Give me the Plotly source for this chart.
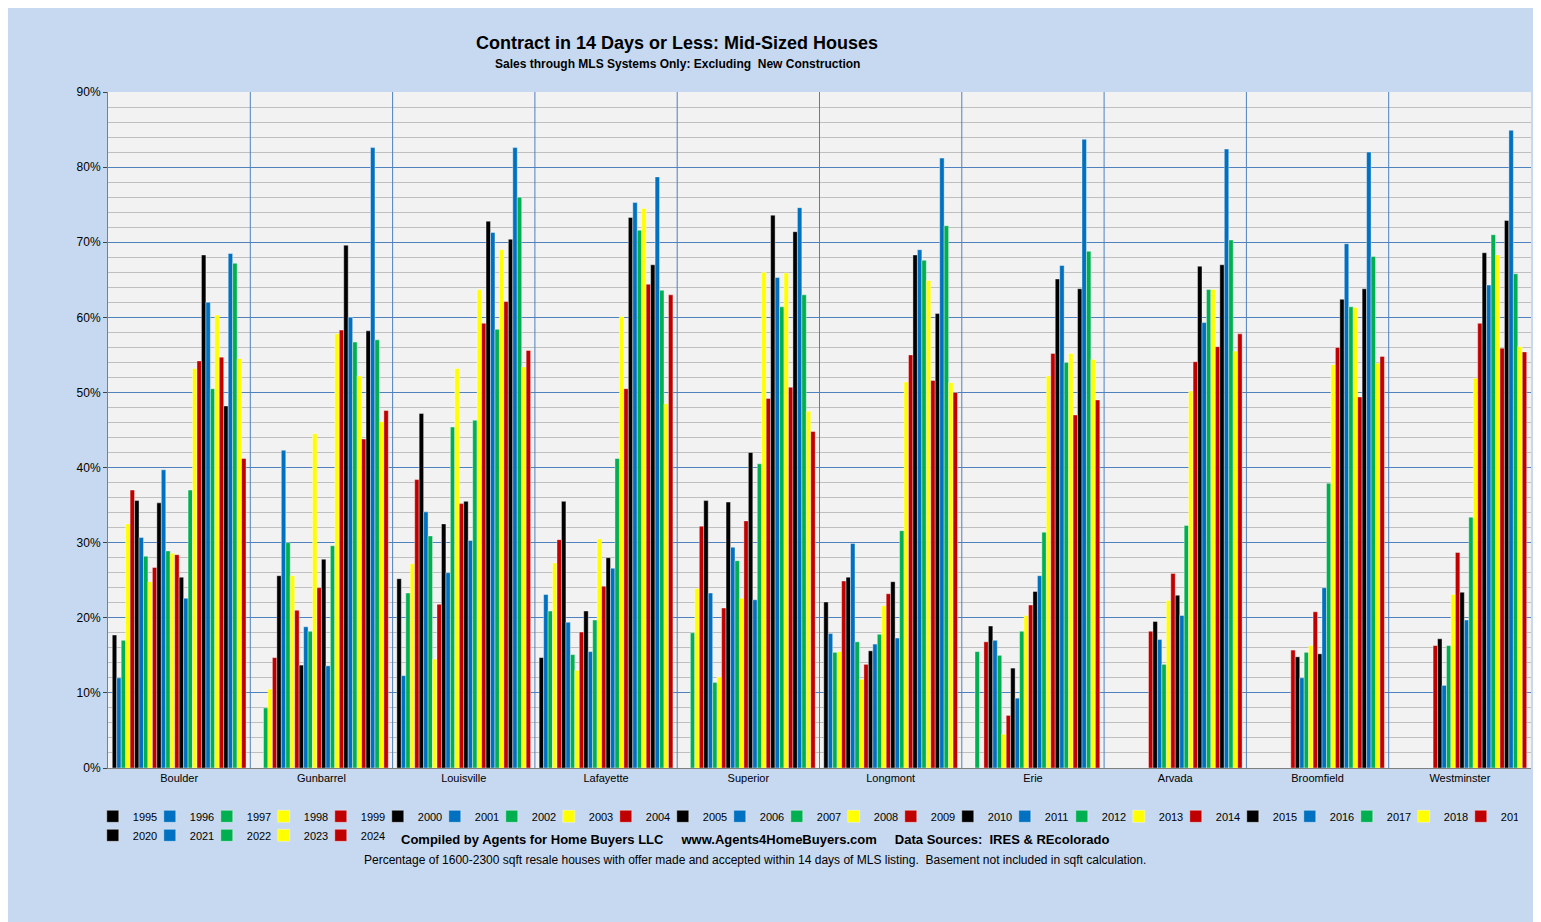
import plotly.graph_objects as go

# Contract in 14 days or less, mid-sized houses, % by city and year
cities = ['Boulder', 'Gunbarrel', 'Louisville', 'Lafayette', 'Superior',
          'Longmont', 'Erie', 'Arvada', 'Broomfield', 'Westminster']
years = list(range(1995, 2025))

N = None
boulder = [17.7, 12, 17, 32.5, 37, 35.6, 30.7, 28.2, 24.8, 26.7, 35.3, 39.7, 28.9, 28.6, 28.4,
           25.4, 22.6, 37, 53.2, 54.2, 68.3, 62, 50.5, 60.3, 54.7, 48.2, 68.5, 67.2, 54.5, 41.2]
gunbarrel = [N, N, 8, 10.5, 14.7, 25.6, 42.3, 30, 25.6, 21, 13.7, 18.8, 18.2, 44.5, 24,
             27.8, 13.6, 29.6, 57.8, 58.3, 69.6, 60, 56.7, 52.2, 43.8, 58.2, 82.6, 57, 46.1, 47.6]
louisville = [25.2, 12.3, 23.3, 27.2, 38.4, 47.2, 34.1, 30.9, 14.5, 21.8, 32.5, 26, 45.4, 53.2, 35.2,
              35.5, 30.3, 46.3, 63.7, 59.2, 72.8, 71.3, 58.4, 69, 62.1, 70.4, 82.6, 76, 53.4, 55.6]
lafayette = [14.7, 23.1, 20.9, 27.3, 30.4, 35.5, 19.4, 15.1, 13, 18.1, 20.9, 15.5, 19.7, 30.5, 24.2,
             28, 26.6, 41.2, 60.1, 50.5, 73.3, 75.3, 71.6, 74.5, 64.4, 67, 78.7, 63.6, 48.5, 63]
superior = [N, N, 18, 23.9, 32.2, 35.6, 23.3, 11.4, 12.1, 21.3, 35.4, 29.4, 27.6, 22.6, 32.9,
            42, 22.4, 40.5, 66, 49.2, 73.6, 65.3, 61.4, 65.9, 50.7, 71.4, 74.6, 63, 47.5, 44.8]
longmont = [22.1, 17.9, 15.4, 15.5, 24.9, 25.4, 29.9, 16.8, 11.8, 13.8, 15.6, 16.5, 17.8, 21.6, 23.2,
            24.8, 17.3, 31.6, 51.4, 55, 68.3, 69, 67.6, 64.9, 51.6, 60.5, 81.2, 72.2, 51.3, 50]
erie = [N, N, 15.5, N, 16.8, 18.9, 17, 15, 4.5, 7, 13.3, 9.3, 18.2, 20.3, 21.7,
        23.5, 25.6, 31.4, 52.2, 55.2, 65.1, 66.9, 54, 55.2, 47, 63.8, 83.7, 68.8, 54.4, 49]
arvada = [N] * 9 + [18.2, 19.5, 17.1, 13.8, 22.3, 25.9, 23, 20.3, 32.3, 50.2, 54.1,
                    66.8, 59.3, 63.7, 63.7, 56.1, 67, 82.4, 70.3, 55.5, 57.8]
broomfield = [N] * 9 + [15.7, 14.8, 12, 15.4, 16.3, 20.8, 15.2, 24, 37.9, 53.7, 56,
                        62.4, 69.8, 61.4, 61.3, 49.4, 63.8, 82, 68.1, 53.9, 54.8]
westminster = [N] * 9 + [16.3, 17.2, 11, 16.3, 23.1, 28.7, 23.4, 19.7, 33.4, 51.9, 59.2,
                         68.6, 64.3, 71, 68.3, 55.9, 72.9, 84.9, 65.8, 56.1, 55.4]

series = [boulder, gunbarrel, louisville, lafayette, superior,
          longmont, erie, arvada, broomfield, westminster]
palette = ['#000000', '#0070C0', '#00B050', '#FFFF00', '#C00000']

fig = go.Figure()
for i, yr in enumerate(years):
    vals = [s[i] / 100 if s[i] is not None else None for s in series]
    fig.add_trace(go.Bar(x=cities, y=vals, name=str(yr),
                         marker=dict(color=palette[i % 5], line=dict(color='white', width=0.4))))

# separators between city groups
shapes = [dict(type='line', xref='x', yref='paper', x0=i + 0.5, x1=i + 0.5, y0=0, y1=1,
               line=dict(color='#4F81BD', width=1)) for i in range(len(cities) - 1)]

fig.update_layout(
    width=1541, height=922,
    paper_bgcolor='#C6D9F1', plot_bgcolor='#F2F2F2',
    font=dict(family='Liberation Sans, Arial', color='black', size=11),
    margin=dict(l=100, r=18, t=84, b=162),
    barmode='group', bargap=0.06, bargroupgap=0,
    showlegend=True,
    legend=dict(orientation='h', x=0.49, xanchor='center', y=-0.05, yanchor='top',
                entrywidth=12, itemwidth=30, font=dict(size=11), bgcolor='rgba(0,0,0,0)',
                tracegroupgap=0),
    shapes=shapes,
    annotations=[
        dict(text='<b>Contract in 14 Days or Less: Mid-Sized Houses</b>', xref='paper', yref='paper',
             x=0.4, y=1.09, showarrow=False, font=dict(size=18)),
        dict(text='<b>Sales through MLS Systems Only: Excluding  New Construction</b>', xref='paper',
             yref='paper', x=0.4, y=1.055, showarrow=False, font=dict(size=12)),
        dict(text='<b>Compiled by Agents for Home Buyers LLC     www.Agents4HomeBuyers.com     '
                  'Data Sources:  IRES & REcolorado</b>', xref='paper', yref='paper',
             x=0.455, y=-0.12, showarrow=False, font=dict(size=13)),
        dict(text='Percentage of 1600-2300 sqft resale houses with offer made and accepted within 14 days '
                  'of MLS listing.  Basement not included in sqft calculation.', xref='paper',
             yref='paper', x=0.455, y=-0.15, showarrow=False, font=dict(size=12)),
    ],
)
fig.update_xaxes(showgrid=False, showline=True, linecolor='#7F7F7F', ticks='', tickfont=dict(size=11))
fig.update_yaxes(range=[0, 0.9], dtick=0.1, tickformat='.0%', gridcolor='#4F81BD', gridwidth=1,
                 minor=dict(dtick=0.02, showgrid=True, gridcolor='#BFBFBF'),
                 showline=True, linecolor='#7F7F7F', ticks='outside', ticklen=4, zeroline=False,
                 tickfont=dict(size=12))

fig.write_html('out.html')
